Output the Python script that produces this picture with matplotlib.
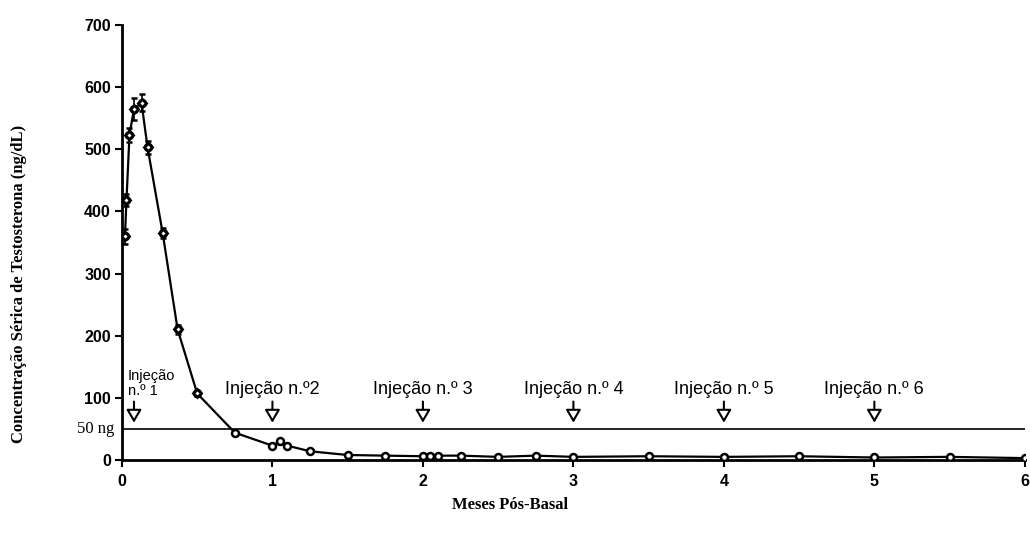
import numpy as np
import matplotlib.pyplot as plt

# dados (meses, ng/dL)
meses = [0.02, 0.03, 0.05, 0.08, 0.13, 0.17, 0.27, 0.37, 0.5, 0.75,
         1.0, 1.05, 1.1, 1.25, 1.5, 1.75, 2.0, 2.05, 2.1, 2.25,
         2.5, 2.75, 3.0, 3.5, 4.0, 4.5, 5.0, 5.5, 6.0]
testo = [360, 418, 523, 565, 575, 503, 366, 210, 107, 44,
         23, 30, 23, 14, 8, 7, 6, 7, 7, 7,
         5, 7, 5, 6, 5, 6, 4, 5, 3]
erro = [12, 10, 12, 18, 14, 10, 8, 8, 4, 3,
        3, 4, 3, 0, 0, 0, 0, 0, 0, 0,
        0, 0, 0, 0, 0, 0, 0, 0, 0]
injecoes = [0.08, 1.0, 2.0, 3.0, 4.0, 5.0]
rotulos_inj = ["Injeção\nn.º 1", "Injeção n.º2", "Injeção n.º 3",
               "Injeção n.º 4", "Injeção n.º 5", "Injeção n.º 6"]
ticks_y = [0, 100, 200, 300, 400, 500, 600, 700]
ticks_x = [0, 1, 2, 3, 4, 5, 6]
limiar = 50

fig = plt.figure(figsize=(10.3, 5.39), dpi=100)
ax = fig.add_axes([0.1184, 0.1466, 0.8766, 0.807])

ax.errorbar(meses, testo, yerr=erro, color="black", lw=1.6, capsize=2.5,
            elinewidth=1.2, marker="o", ms=5, mfc="white", mec="black",
            mew=1.8, zorder=3)

# marcadores do pico como losangos
ax.plot(meses[:9], testo[:9], ls="none", marker="D", ms=4.5, mfc="white",
        mec="black", mew=2, zorder=4)

ax.axhline(limiar, color="black", lw=1.2, zorder=2)

for i, (xi, txt) in enumerate(zip(injecoes, rotulos_inj)):
    ax.annotate("", xy=(xi, 60), xytext=(xi, 94),
                arrowprops=dict(arrowstyle="-|>,head_length=0.6,head_width=0.35",
                                color="black", lw=1.5, fc="white",
                                shrinkA=0, shrinkB=0, mutation_scale=13))
    if i == 0:
        ax.text(0.04, 99, txt, ha="left", va="bottom", fontsize=10.5,
                family="Liberation Sans", linespacing=1.15)
    else:
        ax.text(xi, 100, txt, ha="center", va="bottom", fontsize=13,
                family="Liberation Sans")

ax.set_xlim(0, 6)
ax.set_ylim(0, 700)
ax.set_xticks(ticks_x)
ax.set_yticks(ticks_y)
for lab in ax.get_xticklabels() + ax.get_yticklabels():
    lab.set_fontweight("bold")
    lab.set_family("Liberation Sans")
    lab.set_fontsize(11.5)
ax.tick_params(direction="out", length=5, width=1.5, pad=3)
ax.tick_params(axis="x", pad=5)
ax.spines["top"].set_visible(False)
ax.spines["right"].set_visible(False)
ax.spines["left"].set_linewidth(2)
ax.spines["bottom"].set_linewidth(2)

ax.text(-0.008, limiar, "50 ng", ha="right", va="center", fontsize=12,
        family="Liberation Serif", transform=ax.get_yaxis_transform())

fig.text(0.018, 0.473, "Concentração Sérica de Testosterona (ng/dL)",
         rotation=90, ha="center", va="center", fontsize=12,
         fontweight="bold", family="Liberation Serif")
fig.text(0.495, 0.063, "Meses Pós-Basal", ha="center", va="center",
         fontsize=12, fontweight="bold", family="Liberation Serif")

fig.savefig("out.png", dpi=100)
